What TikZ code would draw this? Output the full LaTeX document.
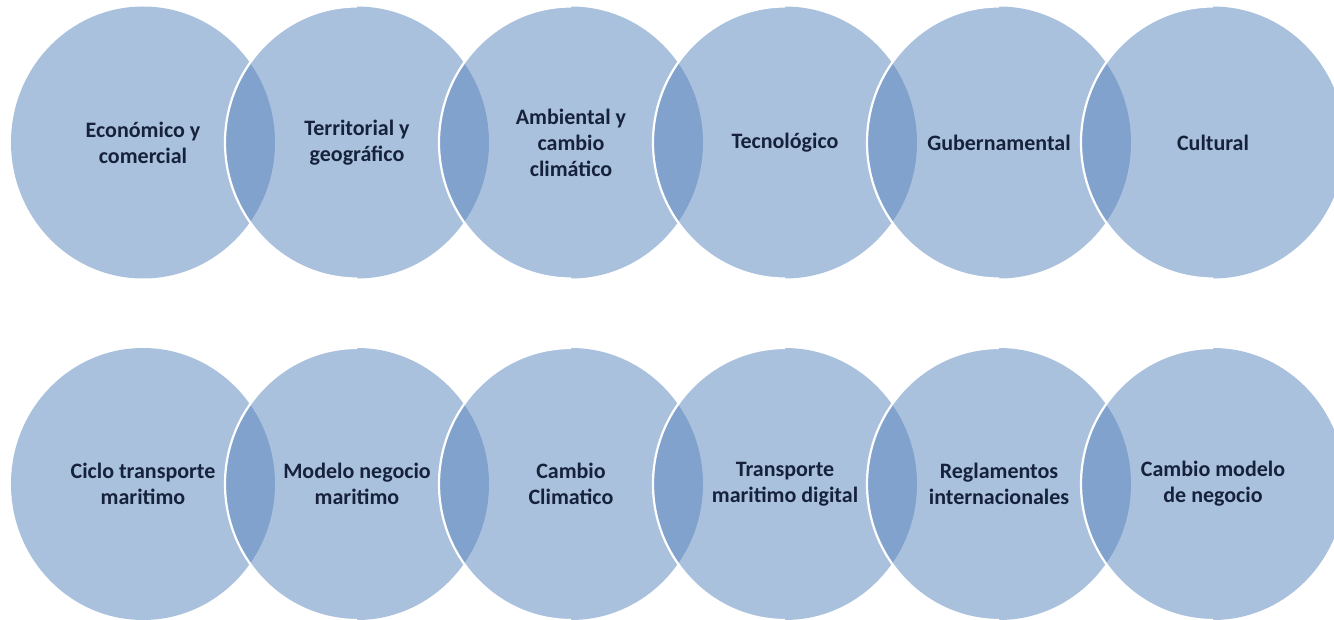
\documentclass[tikz,border=0pt]{standalone}
\usepackage{fontspec}
\setmainfont{Carlito}
\usetikzlibrary{shapes.geometric}
\definecolor{vennfill}{RGB}{87,132,188}
\definecolor{venntext}{RGB}{22,34,60}
\tikzset{
  venn/.style={ellipse, inner sep=0pt, outer sep=0pt, minimum width=264pt, minimum height=272pt,
    fill=vennfill, fill opacity=0.5, text opacity=1, draw=none, text=venntext,
    font=\fontsize{22}{26}\selectfont\bfseries, align=center},
  rim/.style={draw=white, line width=2.2pt}
}
\newcommand{\leftrim}[1]{\draw[rim] (#1.south) arc[start angle=90, end angle=270, x radius=132, y radius=136];}
\begin{document}
\begin{tikzpicture}[x=1pt,y=-1pt]
\clip (0,0) rectangle (1334,620);
\fill[white] (0,0) rectangle (1334,620);
% top row
\node[venn] (a1) at (143,142.5) {Económico y\\comercial};
\node[venn] (a2) at (357,142.5) {Territorial y\\geográfico};
\leftrim{a2}
\node[venn] (a3) at (571,142.5) {Ambiental y\\cambio\\climático};
\leftrim{a3}
\node[venn] (a4) at (785,142.5) {Tecnológico};
\leftrim{a4}
\node[venn] (a5) at (999,142.5) {Gubernamental};
\leftrim{a5}
\node[venn] (a6) at (1213,142.5) {Cultural};
\leftrim{a6}
% bottom row
\node[venn] (b1) at (143,484) {Ciclo transporte\\maritimo};
\node[venn] (b2) at (357,484) {Modelo negocio\\maritimo};
\leftrim{b2}
\node[venn] (b3) at (571,484) {Cambio\\Climatico};
\leftrim{b3}
\node[venn] (b4) at (785,484) {Transporte\\maritimo digital};
\leftrim{b4}
\node[venn] (b5) at (999,484) {Reglamentos\\internacionales};
\leftrim{b5}
\node[venn] (b6) at (1213,484) {Cambio modelo\\de negocio};
\leftrim{b6}
\end{tikzpicture}
\end{document}
